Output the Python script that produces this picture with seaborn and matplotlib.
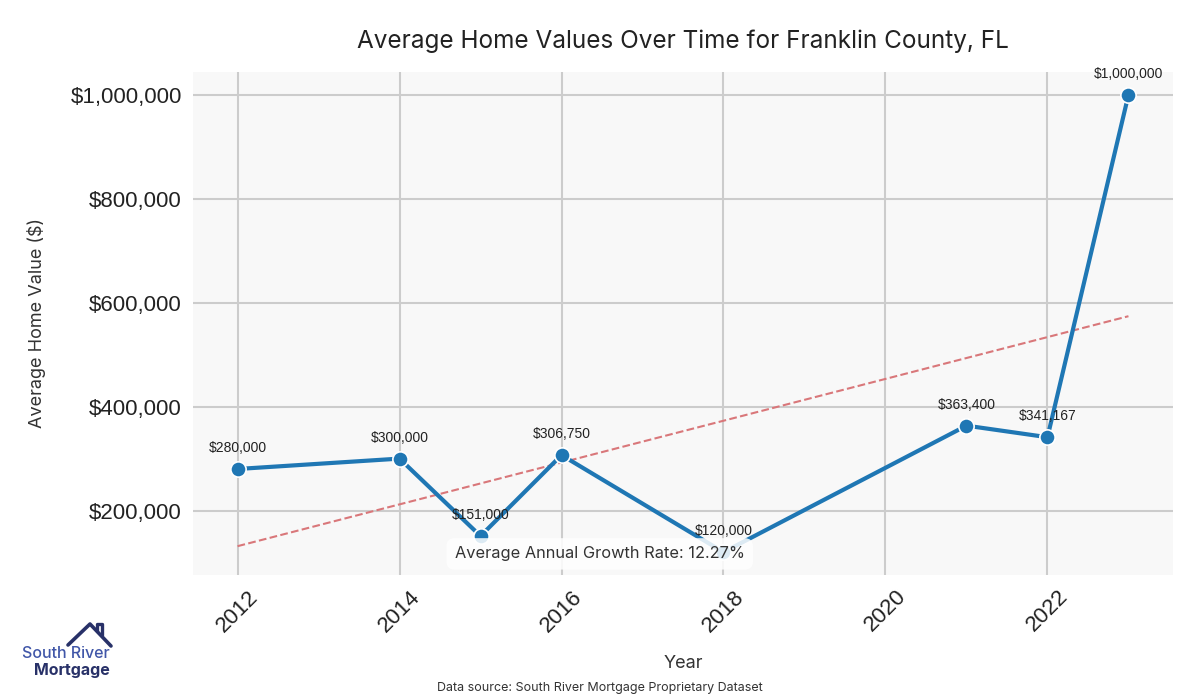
import numpy as np
import pandas as pd
import matplotlib
matplotlib.use("Agg")
import matplotlib.pyplot as plt
import matplotlib.ticker as mticker
from matplotlib.lines import Line2D
import seaborn as sns

years = [2012, 2014, 2015, 2016, 2018, 2021, 2022, 2023]
values = [280000, 300000, 151000, 306750, 120000, 363400, 341167, 1000000]
title = "Average Home Values Over Time for Franklin County, FL"
xlabel = "Year"
ylabel = "Average Home Value ($)"
source = "Data source: South River Mortgage Proprietary Dataset"

df = pd.DataFrame({"Year": years, "Value": values})

sns.set_theme(style="whitegrid")
plt.rcParams["font.family"] = ["Liberation Sans", "DejaVu Sans"]
ui_font = ["Inter", "DejaVu Sans"]

W, H = 1200, 700
fig = plt.figure(figsize=(12, 7), dpi=100)
ax = fig.add_axes([193 / W, 1 - 575 / H, (1173 - 193) / W, (575 - 72) / H])
ax.set_facecolor("#f8f8f8")
for s in ax.spines.values():
    s.set_visible(False)
ax.grid(True, color="#cccccc", linewidth=1.5)

# trend line (least squares)
coef = np.polyfit(df["Year"], df["Value"], 1)
trend = np.polyval(coef, df["Year"])
ax.plot(df["Year"], trend, linestyle="--", color="#d9777a", linewidth=1.5, zorder=2)

sns.lineplot(data=df, x="Year", y="Value", ax=ax, color="#1f77b4", linewidth=3,
             marker="o", markersize=11, markeredgecolor="white", markeredgewidth=1.2,
             zorder=3)

for x, y in zip(years, values):
    ax.annotate(f"${y:,.0f}", (x, y), xytext=(0, 10), textcoords="offset points",
                ha="center", va="bottom", fontsize=10, color="#222222", zorder=4)

cagr = (values[-1] / values[0]) ** (1 / (years[-1] - years[0])) - 1
ax.text(0.415, 0.042, f"Average Annual Growth Rate: {cagr * 100:.2f}%",
        transform=ax.transAxes, ha="center", va="center", fontsize=11.8,
        family=ui_font, color="#333333", zorder=5,
        bbox=dict(boxstyle="round,pad=0.5", facecolor="white", edgecolor="none", alpha=0.85))

ax.yaxis.set_major_formatter(mticker.FuncFormatter(lambda v, p: f"${v:,.0f}"))
ax.xaxis.set_major_locator(mticker.MultipleLocator(2))
ax.xaxis.set_major_formatter(mticker.FuncFormatter(lambda v, p: f"{v:.0f}"))
ax.tick_params(axis="both", labelsize=16, colors="#222222", length=0, pad=8)
plt.setp(ax.get_xticklabels(), rotation=45, ha="center")
ax.set_xlabel(xlabel, fontsize=13, family=ui_font, color="#333333", labelpad=14)
ax.set_ylabel(ylabel, fontsize=13, family=ui_font, color="#333333", labelpad=18)
ax.set_title(title, fontsize=17.5, family=ui_font, color="#222222", pad=17)

fig.text(600 / W, 1 - 688 / H, source, ha="center", va="center", fontsize=9,
         family=ui_font, color="#333333")

# logo
tf = fig.transFigure
def P(x, y):
    return x / W, 1 - y / H
roof = [P(68, 645), P(90, 624), P(111, 646)]
fig.add_artist(Line2D([roof[0][0], roof[1][0], roof[2][0]],
                      [roof[0][1], roof[1][1], roof[2][1]],
                      transform=tf, color="#283168", linewidth=2.6))
ch = [P(97, 631), P(97, 624), P(102, 624), P(102, 635)]
fig.add_artist(Line2D([c[0] for c in ch], [c[1] for c in ch], transform=tf,
                      color="#283168", linewidth=2.4))
fig.text(110 / W, 1 - 653 / H, "South River", ha="right", va="center", fontsize=11.5,
         fontweight="medium", family=ui_font, color="#4056a8")
fig.text(110 / W, 1 - 670 / H, "Mortgage", ha="right", va="center", fontsize=11.5,
         fontweight="bold", family=ui_font, color="#283168")

fig.savefig("out.png", dpi=100)
